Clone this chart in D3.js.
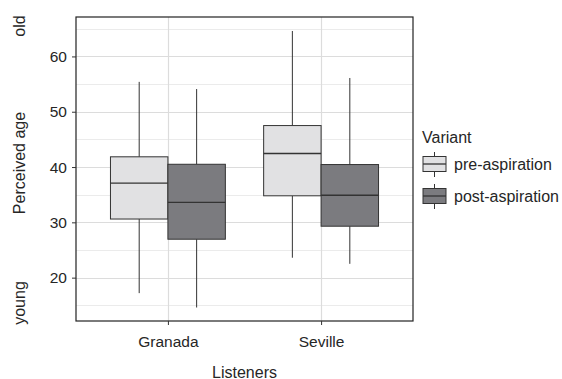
<!DOCTYPE html>
<html>
<head>
<meta charset="utf-8">
<script src="https://cdn.jsdelivr.net/npm/d3@7"></script>
<style>
body { margin: 0; background: #fff; }
text { font-family: "Liberation Sans", Arial, Helvetica, sans-serif; fill: #262626; }
</style>
</head>
<body>
<svg id="chart" width="562" height="379"></svg>
<script>
// Data
const listeners = ["Granada", "Seville"];
const variants = ["pre-aspiration", "post-aspiration"];
// [lowerWhisker, Q1, median, Q3, upperWhisker]
const preAspiration = [
  [17.2, 30.6, 37.1, 41.85, 55.4],
  [23.6, 34.8, 42.45, 47.5, 64.6]
];
const postAspiration = [
  [14.6, 26.95, 33.6, 40.5, 54.1],
  [22.5, 29.3, 34.9, 40.45, 56.1]
];
const yTicks = [20, 30, 40, 50, 60];
const yMinor = [15, 25, 35, 45, 55, 65];

const fills = { "pre-aspiration": "#e1e1e3", "post-aspiration": "#7b7b7f" };

const svg = d3.select("#chart");
const P = { left: 76, top: 17, right: 413, bottom: 321 };

const x = d3.scaleLinear().domain([0.4, 2.6]).range([P.left, P.right]);
const y = d3.scaleLinear().domain([12.16, 67.13]).range([P.bottom, P.top]);

// Grid
const g = svg.append("g");
g.selectAll(".minor").data(yMinor).enter().append("line")
  .attr("x1", P.left).attr("x2", P.right)
  .attr("y1", d => Math.round(y(d)) + 0.5).attr("y2", d => Math.round(y(d)) + 0.5)
  .attr("stroke", "#ebebeb").attr("stroke-width", 1);
g.selectAll(".major").data(yTicks).enter().append("line")
  .attr("x1", P.left).attr("x2", P.right)
  .attr("y1", d => Math.round(y(d)) + 0.5).attr("y2", d => Math.round(y(d)) + 0.5)
  .attr("stroke", "#dcdcdc").attr("stroke-width", 1.2);
g.selectAll(".vmajor").data(listeners).enter().append("line")
  .attr("x1", (d, i) => Math.round(x(i + 1)) + 0.5).attr("x2", (d, i) => Math.round(x(i + 1)) + 0.5)
  .attr("y1", P.top).attr("y2", P.bottom)
  .attr("stroke", "#dcdcdc").attr("stroke-width", 1.2);

// Boxes
const boxW = 0.375;
const series = [
  { name: "pre-aspiration", vals: preAspiration, off: -boxW / 2 },
  { name: "post-aspiration", vals: postAspiration, off: boxW / 2 }
];
series.forEach(s => {
  s.vals.forEach((v, i) => {
    const cx = x(i + 1 + s.off);
    const x0 = x(i + 1 + s.off - boxW / 2), x1 = x(i + 1 + s.off + boxW / 2);
    const bg = svg.append("g");
    bg.append("line").attr("x1", cx).attr("x2", cx).attr("y1", y(v[4])).attr("y2", y(v[3]))
      .attr("stroke", "#333").attr("stroke-width", 1);
    bg.append("line").attr("x1", cx).attr("x2", cx).attr("y1", y(v[1])).attr("y2", y(v[0]))
      .attr("stroke", "#333").attr("stroke-width", 1);
    bg.append("rect").attr("x", x0).attr("y", y(v[3])).attr("width", x1 - x0).attr("height", y(v[1]) - y(v[3]))
      .attr("fill", fills[s.name]).attr("stroke", "#333").attr("stroke-width", 1);
    bg.append("line").attr("x1", x0).attr("x2", x1).attr("y1", y(v[2])).attr("y2", y(v[2]))
      .attr("stroke", "#333").attr("stroke-width", 1.3);
  });
});

// Panel border
svg.append("rect").attr("x", P.left).attr("y", P.top)
  .attr("width", P.right - P.left).attr("height", P.bottom - P.top)
  .attr("fill", "none").attr("stroke", "#222").attr("stroke-width", 1.2);

// Y axis
const yAxis = svg.append("g").attr("transform", `translate(${P.left},0)`)
  .call(d3.axisLeft(y).tickValues(yTicks).tickSize(4).tickPadding(5));
yAxis.select(".domain").remove();
yAxis.selectAll("line").attr("stroke", "#333");
yAxis.selectAll("text").attr("font-size", 15.5).attr("fill", "#262626")
  .style("font-family", '"Liberation Sans", Arial, sans-serif');

// X axis
const xAxis = svg.append("g").attr("transform", `translate(0,${P.bottom})`)
  .call(d3.axisBottom(x).tickValues([1, 2]).tickFormat((d, i) => listeners[i]).tickSize(4).tickPadding(11));
xAxis.select(".domain").remove();
xAxis.selectAll("line").attr("stroke", "#333");
xAxis.selectAll("text").attr("font-size", 15.5).attr("fill", "#262626")
  .style("font-family", '"Liberation Sans", Arial, sans-serif');

// Axis titles
svg.append("text").attr("x", (P.left + P.right) / 2).attr("y", 377.5)
  .attr("text-anchor", "middle").attr("font-size", 16).text("Listeners");
svg.append("text").attr("transform", "translate(25,163) rotate(-90)")
  .attr("text-anchor", "middle").attr("font-size", 16).text("Perceived age");
svg.append("text").attr("transform", "translate(25,26) rotate(-90)")
  .attr("text-anchor", "middle").attr("font-size", 16).text("old");
svg.append("text").attr("transform", "translate(25,303) rotate(-90)")
  .attr("text-anchor", "middle").attr("font-size", 16).text("young");

// Legend
const lg = svg.append("g");
lg.append("text").attr("x", 422).attr("y", 143).attr("font-size", 16).text("Variant");
variants.forEach((name, i) => {
  const top = 150 + i * 32;
  const kx0 = 423, kx1 = 446, kc = (kx0 + kx1) / 2;
  lg.append("line").attr("x1", kc).attr("x2", kc).attr("y1", top + 2).attr("y2", top + 27)
    .attr("stroke", "#333").attr("stroke-width", 1);
  lg.append("rect").attr("x", kx0).attr("y", top + 6.5).attr("width", kx1 - kx0).attr("height", 15)
    .attr("fill", fills[name]).attr("stroke", "#333").attr("stroke-width", 1);
  lg.append("line").attr("x1", kx0).attr("x2", kx1).attr("y1", top + 14).attr("y2", top + 14)
    .attr("stroke", "#333").attr("stroke-width", 1.3);
  lg.append("text").attr("x", 454).attr("y", top + 14).attr("dy", "0.35em")
    .attr("font-size", 16).text(name);
});
</script>
</body>
</html>
